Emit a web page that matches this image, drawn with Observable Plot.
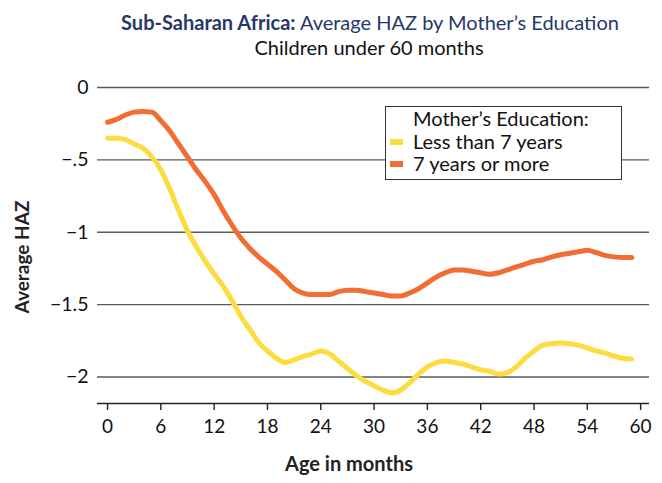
<!DOCTYPE html>
<html><head><meta charset="utf-8">
<script src="https://cdn.jsdelivr.net/npm/d3@7"></script>
<script src="https://cdn.jsdelivr.net/npm/@observablehq/plot@0.6"></script>
<style>
body{margin:0;background:#fff;font-family:Lato,"Open Sans",sans-serif;}
#wrap{position:relative;width:662px;height:483px;overflow:hidden;}
.t{position:absolute;white-space:nowrap;transform:translateX(-50%);line-height:22px;}
#title{left:370px;top:11px;font-size:20px;color:#26386a;}
#subtitle{left:369px;top:36px;font-size:20px;color:#111;}
#chart{position:absolute;left:0;top:60px;}
#legend{position:absolute;left:385px;top:106px;width:235px;height:72px;border:1.5px solid #333;background:#fff;font-size:20px;color:#111;}
#legend .row{position:absolute;left:27px;line-height:22px;white-space:nowrap;}
#legend .sw{position:absolute;left:4px;width:13px;height:6px;}
</style></head>
<body><div id="wrap">
<div id="title" class="t"><b>Sub-Saharan Africa:</b> Average HAZ by Mother’s Education</div>
<div id="subtitle" class="t">Children under 60 months</div>
<div id="chart"></div>
<div id="legend"></div>
</div>
<script>
const months = [0,1,2,3,4,5,6,7,8,9,10,11,12,13,14,15,16,17,18,19,20,21,22,23,24,25,26,27,28,29,30,31,32,33,34,35,36,37,38,39,40,41,42,43,44,45,46,47,48,49,50,51,52,53,54,55,56,57,58,59];
const lessThan7 = [-0.35,-0.35,-0.36,-0.39,-0.42,-0.48,-0.57,-0.70,-0.85,-0.99,-1.10,-1.20,-1.29,-1.37,-1.47,-1.58,-1.67,-1.76,-1.82,-1.87,-1.90,-1.88,-1.86,-1.84,-1.82,-1.84,-1.89,-1.94,-1.99,-2.03,-2.06,-2.09,-2.11,-2.09,-2.04,-1.98,-1.93,-1.90,-1.89,-1.90,-1.91,-1.93,-1.95,-1.96,-1.98,-1.97,-1.93,-1.87,-1.82,-1.78,-1.77,-1.765,-1.77,-1.78,-1.80,-1.82,-1.835,-1.855,-1.87,-1.875];
const sevenOrMore = [-0.24,-0.22,-0.19,-0.17,-0.165,-0.17,-0.23,-0.30,-0.39,-0.48,-0.57,-0.65,-0.74,-0.85,-0.95,-1.04,-1.11,-1.17,-1.22,-1.27,-1.33,-1.39,-1.42,-1.43,-1.43,-1.43,-1.41,-1.40,-1.40,-1.41,-1.42,-1.43,-1.44,-1.44,-1.42,-1.39,-1.35,-1.31,-1.28,-1.26,-1.26,-1.27,-1.28,-1.29,-1.28,-1.26,-1.24,-1.22,-1.20,-1.19,-1.17,-1.155,-1.145,-1.135,-1.125,-1.14,-1.16,-1.17,-1.175,-1.175];
const seriesNames = ["Less than 7 years","7 years or more"];
const seriesColors = ["#fddc40","#f26d33"];
const legendTitle = "Mother’s Education:";
const xTicks = [0,6,12,18,24,30,36,42,48,54,60];
const yTicks = [0,-0.5,-1,-1.5,-2];
const yTickLabels = ["0","−.5","−1","−1.5","−2"];
const xLabel = "Age in months";
const yLabel = "Average HAZ";
const xDomain = [-1.13, 61];
const yDomain = [-2.183, 0];

const rows = [];
months.forEach((m,i)=>{
  rows.push({m, v: lessThan7[i], s: seriesNames[0]});
});
months.forEach((m,i)=>{
  rows.push({m, v: sevenOrMore[i], s: seriesNames[1]});
});

const chart = Plot.plot({
  width: 662, height: 423,
  marginTop: 27, marginBottom: 80, marginLeft: 97, marginRight: 13,
  style: {fontFamily: "Lato, 'Open Sans', sans-serif", color: "#111", background: "#fff"},
  x: {domain: xDomain, axis: null},
  y: {domain: yDomain, axis: null},
  color: {domain: seriesNames, range: seriesColors},
  marks: [
    Plot.ruleY(yTicks, {stroke: "#5a5a5a", strokeWidth: 1.4}),
    Plot.ruleY([yDomain[0]], {stroke: "#222", strokeWidth: 1.6}),
    Plot.axisX(xTicks, {tickSize: 7, tickPadding: 9, fontSize: 19, stroke: "#222", strokeWidth: 1.4, tickFormat: d => String(d), label: null}),
    Plot.axisY(yTicks, {tickSize: 0, tickPadding: 9, fontSize: 19.5, tickFormat: (d,i) => yTickLabels[i], label: null}),
    Plot.line(rows, {x: "m", y: "v", z: "s", stroke: "s", strokeWidth: 5, curve: "monotone-x", strokeLinecap: "round", strokeLinejoin: "round"})
  ]
});
document.getElementById("chart").appendChild(chart);

const svg = d3.select(chart);
svg.append("text").attr("x", 349).attr("y", 406).attr("text-anchor","middle").attr("dominant-baseline","middle")
  .attr("font-weight","bold").attr("font-size",20).attr("fill","#222").text(xLabel);
svg.append("text").attr("transform","translate(24,197) rotate(-90)").attr("text-anchor","middle").attr("dominant-baseline","middle")
  .attr("font-weight","bold").attr("font-size",19).attr("fill","#222").text(yLabel);

const lg = d3.select("#legend");
lg.append("div").attr("class","row").style("top","0px").text(legendTitle);
seriesNames.forEach((n,i)=>{
  lg.append("div").attr("class","sw").style("top", (32 + i*22) + "px").style("background", seriesColors[i]);
  lg.append("div").attr("class","row").style("top", (23 + i*22) + "px").text(n);
});
</script>
</body></html>
